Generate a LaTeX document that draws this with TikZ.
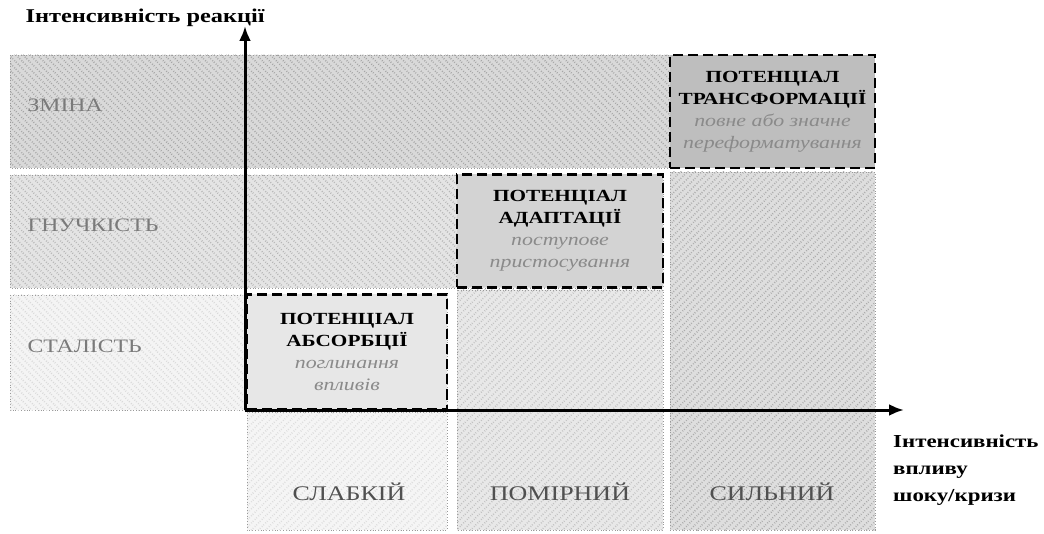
\documentclass[tikz,border=0pt]{standalone}
\usepackage{fontspec}
\setmainfont[FakeStretch=1.25]{Liberation Serif}
\usetikzlibrary{patterns.meta,arrows.meta}
\definecolor{rowA}{HTML}{D9D9D9}\definecolor{rowAl}{HTML}{A6A6A6}
\definecolor{rowB}{HTML}{E4E4E4}\definecolor{rowBl}{HTML}{B6B6B6}
\definecolor{rowC}{HTML}{F4F4F4}\definecolor{rowCl}{HTML}{DADADA}
\definecolor{colA}{HTML}{F5F5F5}\definecolor{colAl}{HTML}{DDDDDD}
\definecolor{colB}{HTML}{E8E8E8}\definecolor{colBl}{HTML}{C2C2C2}
\definecolor{colC}{HTML}{DEDEDE}\definecolor{colCl}{HTML}{ACACAC}
\definecolor{boxA}{HTML}{E7E7E7}
\definecolor{boxB}{HTML}{D3D3D3}
\definecolor{boxC}{HTML}{BEBEBE}
\definecolor{lbl}{HTML}{7A7A7A}
\definecolor{collbl}{HTML}{505050}
\definecolor{ital}{HTML}{8A8A8A}
\newcommand\potb[1]{{\fontsize{17}{22}\selectfont\bfseries #1}}
\newcommand\poti[1]{{\fontsize{17.5}{22}\selectfont\itshape\color{ital}#1}}
\begin{document}
\begin{tikzpicture}[x=1pt,y=-1pt,
  band/.style={draw=gray!80, dotted, line width=0.8pt},
  rowband/.style 2 args={band, fill=#1,
     postaction={pattern={Lines[angle=-45,distance=5pt,line width=1.6pt]}, pattern color=#2}},
  colband/.style 2 args={band, fill=#1,
     postaction={pattern={Lines[angle=45,distance=5pt,line width=1.6pt]}, pattern color=#2}},
  potbox/.style={draw=black, dash pattern=on 10pt off 5pt, line width=2.2pt,
     fill=#1, inner sep=0pt, align=center, font=\fontsize{17}{22}\selectfont},
  rowlbl/.style={anchor=west, text=lbl, font=\fontsize{19}{22}\selectfont},
  collbl/.style={text=collbl, font=\fontsize{20.8}{24}\selectfont},
  axis/.style={line width=3pt, -{Latex[length=15pt,width=12pt]}},
  axlbl/.style={font=\bfseries\fontsize{19.5}{25}\selectfont}
]
\useasboundingbox (0,0) rectangle (1044,534);
% row bands
\path[rowband={rowA}{rowAl}] (10,55) rectangle (670,168);
\path[rowband={rowB}{rowBl}] (10,175) rectangle (663,288);
\path[rowband={rowC}{rowCl}] (10,295) rectangle (447,410);
% column bands
\path[colband={colA}{colAl}] (247,412) rectangle (447,530);
\path[colband={colB}{colBl}] (457,290) rectangle (663,530);
\path[colband={colC}{colCl}] (670,172) rectangle (875,530);
% row labels
\node[rowlbl] (zmina) at (24,105) {ЗМІНА};
\node[rowlbl] (hnuch) at (24,225) {ГНУЧКІСТЬ};
\node[rowlbl] (stal) at (24,346) {СТАЛІСТЬ};
% column labels
\node[collbl] (slab) at (349,492) {СЛАБКІЙ};
\node[collbl] (pomir) at (560,492) {ПОМІРНИЙ};
\node[collbl] (sylny) at (772,492) {СИЛЬНИЙ};
% potential boxes
\node[potbox=boxA, minimum width=200pt, minimum height=115pt] (absorb) at (347,352)
  {\potb{ПОТЕНЦІАЛ}\\\potb{АБСОРБЦІЇ}\\\poti{поглинання}\\\poti{впливів}};
\node[potbox=boxB, minimum width=206pt, minimum height=113pt] (adapt) at (560,231)
  {\potb{ПОТЕНЦІАЛ}\\\potb{АДАПТАЦІЇ}\\\poti{поступове}\\\poti{пристосування}};
\node[potbox=boxC, minimum width=205pt, minimum height=113pt] (transf) at (772.5,111.5)
  {\potb{ПОТЕНЦІАЛ}\\\potb{ТРАНСФОРМАЦІЇ}\\\poti{повне або значне}\\\poti{переформатування}};
% axes
\coordinate (O) at (245,410);
\coordinate (ytip) at (245,26);
\coordinate (xtip) at (904,410);
\draw[axis] (O) -- (ytip);
\draw[axis] (O) -- (xtip);
\node[axlbl, anchor=west] (ylab) at (22,18) {Інтенсивність реакції};
\node[axlbl, anchor=north west, align=left, inner sep=0pt, font=\bfseries\fontsize{18.3}{27}\selectfont] (xlab) at (893,435) {Інтенсивність\\впливу\\шоку/кризи};
\end{tikzpicture}
\end{document}
